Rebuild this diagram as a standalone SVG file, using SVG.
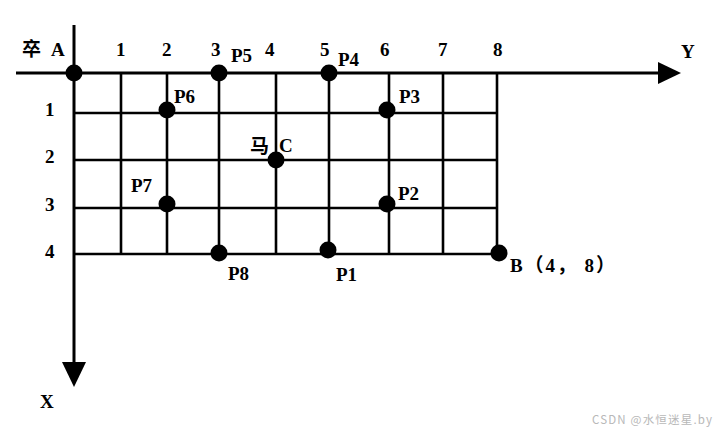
<svg xmlns="http://www.w3.org/2000/svg" width="721" height="433" viewBox="0 0 721 433">
<style>
.ax{stroke:#000;stroke-width:3;fill:none}
.gr{stroke:#000;stroke-width:2.6;fill:none}
.dot{fill:#000}
.t{font-family:"Liberation Serif","Noto Sans CJK SC",serif;font-weight:bold;font-size:19px;fill:#000}
.wm{font-family:"Noto Sans CJK SC","Liberation Sans",sans-serif;font-size:11.5px;fill:#b8b8b8}
</style>
<rect width="721" height="433" fill="#fff"/>
<g id="connectors">
<line class="ax" x1="16" y1="73" x2="662" y2="73"/>
<polygon points="658,62 681,73 658,84" fill="#000"/>
<line class="ax" x1="74" y1="25" x2="74" y2="365"/>
<polygon points="62,362 86,362 74,387" fill="#000"/>
<g id="grid">
<line class="gr" x1="74" y1="113" x2="497" y2="113"/>
<line class="gr" x1="74" y1="160" x2="497" y2="160"/>
<line class="gr" x1="74" y1="208" x2="497" y2="208"/>
<line class="gr" x1="74" y1="254" x2="497" y2="254"/>
<line class="gr" x1="121" y1="73" x2="121" y2="254"/>
<line class="gr" x1="167" y1="73" x2="167" y2="254"/>
<line class="gr" x1="219" y1="73" x2="219" y2="254"/>
<line class="gr" x1="276" y1="73" x2="276" y2="254"/>
<line class="gr" x1="329" y1="73" x2="329" y2="254"/>
<line class="gr" x1="389" y1="73" x2="389" y2="254"/>
<line class="gr" x1="443" y1="73" x2="443" y2="254"/>
<line class="gr" x1="497" y1="73" x2="497" y2="254"/>
</g>
</g>
<g id="axis-labels">
<text class="t" x="116" y="56">1</text>
<text class="t" x="162" y="56">2</text>
<text class="t" x="211" y="56">3</text>
<text class="t" x="265" y="56">4</text>
<text class="t" x="320" y="56">5</text>
<text class="t" x="380" y="56">6</text>
<text class="t" x="438" y="56">7</text>
<text class="t" x="493" y="56">8</text>
<text class="t" x="45" y="116">1</text>
<text class="t" x="45" y="163">2</text>
<text class="t" x="45" y="211">3</text>
<text class="t" x="45" y="258">4</text>
<text class="t" x="681" y="58">Y</text>
<text class="t" x="40" y="408">X</text>
</g>
<g id="A"><circle class="dot" cx="74" cy="73" r="8.5"/><text class="t" x="22" y="56">卒</text><text class="t" x="51" y="56">A</text></g>
<g id="P5"><circle class="dot" cx="219" cy="73" r="8.5"/><text class="t" x="231" y="62">P5</text></g>
<g id="P4"><circle class="dot" cx="329" cy="73" r="8.5"/><text class="t" x="338" y="66">P4</text></g>
<g id="P6"><circle class="dot" cx="167" cy="110" r="8.5"/><text class="t" x="174" y="103">P6</text></g>
<g id="P3"><circle class="dot" cx="387" cy="110" r="8.5"/><text class="t" x="399" y="103">P3</text></g>
<g id="C"><circle class="dot" cx="276" cy="160" r="8.5"/><text class="t" x="250" y="153">马</text><text class="t" x="279" y="152">C</text></g>
<g id="P7"><circle class="dot" cx="167" cy="204" r="8.5"/><text class="t" x="131" y="192">P7</text></g>
<g id="P2"><circle class="dot" cx="387" cy="204" r="8.5"/><text class="t" x="398" y="200">P2</text></g>
<g id="P8"><circle class="dot" cx="219" cy="253" r="8.5"/><text class="t" x="228" y="280">P8</text></g>
<g id="P1"><circle class="dot" cx="328" cy="250" r="8.5"/><text class="t" x="336" y="281">P1</text></g>
<g id="B"><circle class="dot" cx="499" cy="253" r="8.5"/><text class="t" x="510" y="272" textLength="105" lengthAdjust="spacing">B（4， 8）</text></g>
<text class="wm" x="592" y="424" textLength="120" lengthAdjust="spacing">CSDN @水恒迷星.by</text>
</svg>
